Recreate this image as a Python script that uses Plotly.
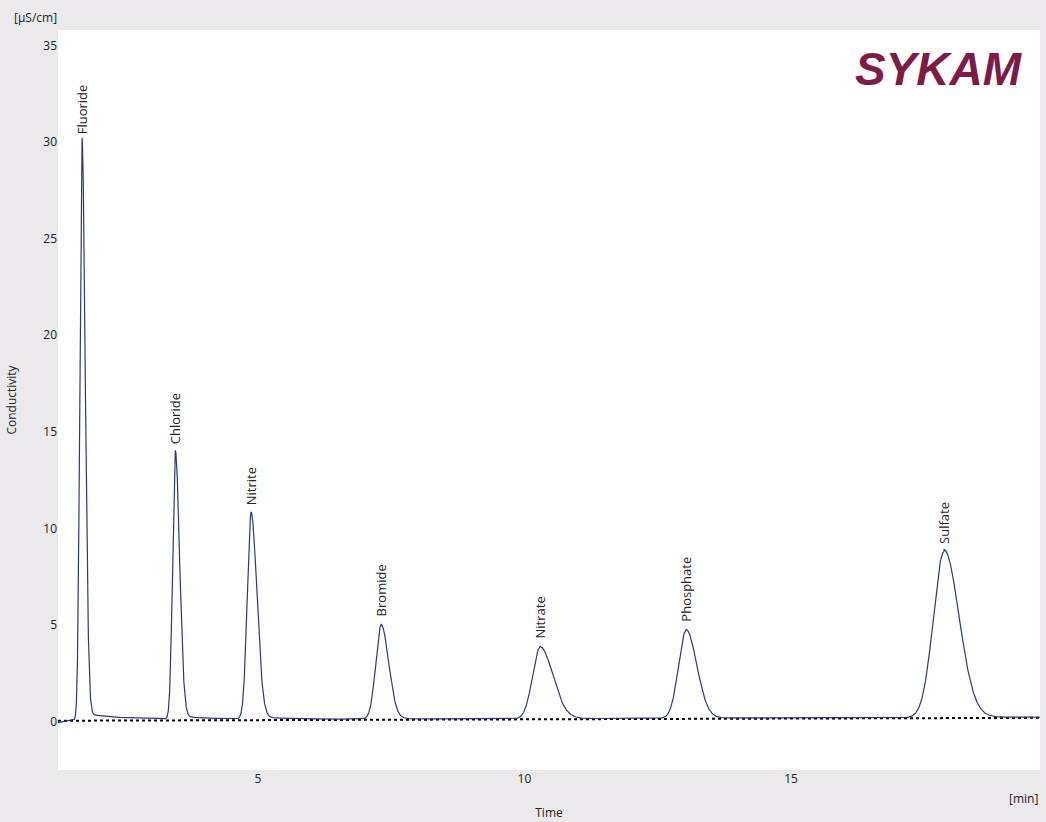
import numpy as np
import plotly.graph_objects as go

peak_names = ["Fluoride", "Chloride", "Nitrite", "Bromide", "Nitrate", "Phosphate", "Sulfate"]
peak_times = [1.70, 3.45, 4.87, 7.31, 10.29, 13.03, 17.87]
peak_heights = [29.8, 13.75, 10.6, 4.85, 3.7, 4.55, 8.6]
peak_sigma_left = [0.04, 0.05, 0.07, 0.10, 0.14, 0.14, 0.20]
peak_sigma_right = [0.06, 0.08, 0.11, 0.14, 0.24, 0.20, 0.28]
baseline_t = [1.25, 19.67]
baseline_y = [0.05, 0.2]

t = np.linspace(1.25, 19.67, 8000)
base = np.interp(t, baseline_t, baseline_y) + 0.02
y = base.copy()
for tr, h, sl, sr in zip(peak_times, peak_heights, peak_sigma_left, peak_sigma_right):
    s = np.where(t < tr, sl, sr)
    y += h * np.exp(-0.5 * ((t - tr) / s) ** 2)
    y += np.where(t > tr, 0.012 * h * np.exp(-(t - tr) / 0.8), 0)
y[t < 1.45] = np.interp(t[t < 1.45], [1.25, 1.45], [-0.05, 0.05])

fig = go.Figure()
fig.add_trace(go.Scatter(x=baseline_t, y=baseline_y, mode="lines",
                         line=dict(color="black", width=2, dash="dot"), hoverinfo="skip"))
fig.add_trace(go.Scatter(x=t, y=y, mode="lines", line=dict(color="#2b3a7a", width=1.2)))

for n, tr, h in zip(peak_names, peak_times, peak_heights):
    fig.add_annotation(x=tr, y=h + 0.5, text=n, textangle=-90, showarrow=False,
                       yanchor="bottom", xanchor="center", font=dict(size=13, color="#222"))

fig.add_annotation(x=0.985, y=0.985, xref="paper", yref="paper", text="<b><i>SYKAM</i></b>",
                   showarrow=False, xanchor="right", yanchor="top",
                   font=dict(size=46, color="#7d1a48", family="Liberation Sans"))
fig.add_annotation(x=-0.047, y=1.003, xref="paper", yref="paper", text="[µS/cm]", showarrow=False,
                   xanchor="left", yanchor="bottom", font=dict(size=12, color="#222"))
fig.add_annotation(x=1.0, y=-0.025, xref="paper", yref="paper", text="[min]", showarrow=False,
                   xanchor="right", yanchor="top", font=dict(size=12, color="#222"))

fig.update_layout(
    width=1046, height=822, showlegend=False,
    paper_bgcolor="#ebe9eb", plot_bgcolor="white",
    margin=dict(l=58, r=6, t=30, b=52),
    font=dict(family="Open Sans", size=12, color="#222"),
)
fig.update_xaxes(range=[1.25, 19.67], tickvals=[5, 10, 15], showgrid=False, zeroline=False,
                 ticks="", title=dict(text="Time", standoff=22, font=dict(size=12)))
fig.update_yaxes(range=[-2.5, 35.8], tickvals=[0, 5, 10, 15, 20, 25, 30, 35], showgrid=False,
                 zeroline=False, ticks="", title=dict(text="Conductivity", standoff=24, font=dict(size=12)))
fig.write_html("out.html", config={"displayModeBar": False})
with open("out.html", encoding="utf-8") as f:
    html = f.read()
html = html.replace("<body>", '<body style="margin:0;background:#ebe9eb">', 1)
with open("out.html", "w", encoding="utf-8") as f:
    f.write(html)
